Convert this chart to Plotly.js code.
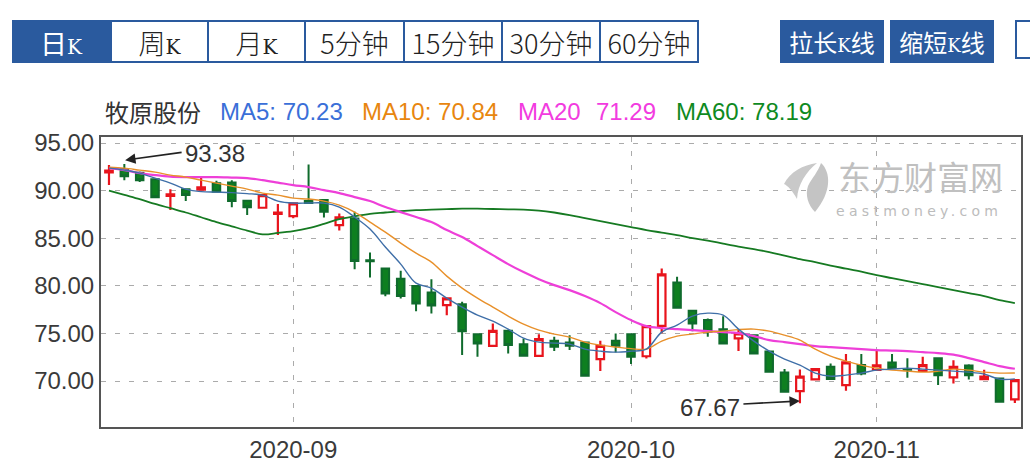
<!DOCTYPE html>
<html><head><meta charset="utf-8">
<script src="https://cdn.plot.ly/plotly-3.0.1.min.js"></script>
<style>
html,body{margin:0;padding:0;background:#fff;width:1030px;height:470px;overflow:hidden}
#chart{position:absolute;left:0;top:0;width:1030px;height:470px}
.btn{position:absolute;top:20px;height:43px;line-height:41px;box-sizing:border-box;text-align:center;border:2px solid #2a5a9e;border-left:none;background:#fff;color:#222;font-family:"Noto Sans CJK SC";font-weight:300;font-size:27px;white-space:nowrap;overflow:hidden}
.btn.on{background:#2a5a9e;color:#fff;font-weight:400}
.btn.blue{background:#2a5a9e;color:#fff;border:none;font-size:24px;font-weight:400;line-height:43px}
.btn small{font-family:"DejaVu Serif";font-size:20px}
.btn.blue small{font-size:18px}
#logo{position:absolute;left:0;top:0;pointer-events:none}
#chart .annotation[data-index="9"] text{letter-spacing:4.3px}
</style></head><body>
<div id="chart"></div>
<div id="bar"></div>
<svg id="logo" width="1030" height="470"><path d="M784,184C790,172 803,165 817,163C806,172 798,184 797,199C792,190 788,186 784,184Z" fill="#c9c9c9"/><path d="M821,163C831,172 832,192 815,212C808,205 805,195 808,186C812,178 818,172 821,163Z" fill="#c4c4c4"/></svg>
<script>
const dates = ['2020-08-14','2020-08-17','2020-08-18','2020-08-19','2020-08-20','2020-08-21','2020-08-24','2020-08-25','2020-08-26','2020-08-27','2020-08-28','2020-08-31','2020-09-01','2020-09-02','2020-09-03','2020-09-04','2020-09-07','2020-09-08','2020-09-09','2020-09-10','2020-09-11','2020-09-14','2020-09-15','2020-09-16','2020-09-17','2020-09-18','2020-09-21','2020-09-22','2020-09-23','2020-09-24','2020-09-25','2020-09-28','2020-09-29','2020-09-30','2020-10-09','2020-10-12','2020-10-13','2020-10-14','2020-10-15','2020-10-16','2020-10-19','2020-10-20','2020-10-21','2020-10-22','2020-10-23','2020-10-26','2020-10-27','2020-10-28','2020-10-29','2020-10-30','2020-11-02','2020-11-03','2020-11-04','2020-11-05','2020-11-06','2020-11-09','2020-11-10','2020-11-11','2020-11-12','2020-11-13'];
const openP = [91.9,92.26,91.87,91.18,89.45,90.13,90.1,90.76,90.86,88.93,88.2,87.55,87.32,88.9,89.0,86.38,87.08,82.68,81.83,80.74,79.97,79.3,77.97,78.05,74.9,73.7,75.27,73.85,72.65,74.22,74.05,74.05,72.3,74.22,74.9,72.6,75.8,80.36,77.37,76.4,75.45,74.47,74.82,73.1,70.9,68.94,70.17,71.49,69.57,71.67,71.18,71.95,71.22,71.07,72.4,70.38,71.64,70.2,70.27,68.07];
const closeP = [92.1,91.52,91.1,89.29,89.6,89.53,90.34,89.87,88.9,88.24,89.53,87.7,88.66,88.7,87.77,87.18,82.6,82.58,79.2,78.92,78.15,77.94,78.68,75.24,73.95,75.27,73.77,72.65,74.4,73.6,73.7,70.55,73.7,73.7,72.54,75.77,81.2,77.69,76.05,75.17,73.95,75.0,72.9,70.97,68.87,70.46,71.25,70.2,71.95,70.8,71.64,71.37,71.18,71.67,70.6,71.49,70.6,70.46,67.82,70.09];
const highP = [92.69,92.8,92.0,91.2,90.13,90.13,91.45,91.03,91.1,88.95,89.6,88.58,88.7,92.75,89.1,87.6,87.77,83.5,81.85,81.58,80.0,80.7,78.75,78.32,74.95,76.04,75.4,74.47,74.9,74.64,74.8,74.1,74.22,75.0,74.95,75.8,81.83,80.95,77.4,76.57,76.8,75.35,74.85,73.15,71.25,71.2,71.3,71.85,72.83,72.83,73.15,72.83,72.4,72.54,72.45,72.17,71.75,71.18,70.3,70.15];
const lowP = [90.58,91.1,90.9,89.2,87.95,88.9,90.05,89.8,88.24,87.43,88.1,85.33,87.1,88.65,87.18,85.8,81.75,80.88,78.9,78.68,77.34,77.1,76.92,72.72,72.54,73.6,72.9,72.6,72.6,73.14,73.25,70.5,71.04,73.0,71.8,72.37,75.03,77.6,75.24,74.64,73.9,73.14,72.85,70.9,68.8,67.67,70.1,70.15,68.97,70.6,71.1,71.3,70.35,71.0,69.57,69.75,70.17,70.15,67.75,67.7];
const ma5 = [92.36,92.15,91.84,91.31,90.79,90.16,89.89,89.84,89.79,89.68,89.53,88.9,88.69,88.69,88.69,88.27,87.22,85.96,84.07,82.28,80.28,79.76,78.71,77.76,76.92,76.29,75.45,74.51,74.09,73.98,73.88,73.35,73.14,73.03,73.14,73.35,75.14,75.87,76.82,77.13,76.92,75.45,74.19,73.14,72.3,71.67,70.83,70.51,70.62,70.83,71.14,71.25,71.35,71.25,71.14,71.04,70.93,70.72,70.2,70.23];
const ma10 = [92.47,92.36,92.15,91.94,91.63,91.42,91.1,90.79,90.47,90.16,89.74,89.53,89.21,89.11,88.9,88.48,87.74,86.69,85.64,84.49,83.43,82.49,81.02,79.76,78.71,77.76,76.82,75.98,75.35,74.93,74.61,74.09,73.77,73.56,73.4,73.35,74.19,74.72,74.93,75.14,75.24,75.4,75.45,75.24,74.82,74.3,73.35,72.61,72.09,71.67,71.35,71.14,71.04,70.93,71.04,71.25,71.14,70.93,70.83,70.84];
const ma20 = [92.36,92.15,91.84,91.63,91.47,91.42,91.42,91.42,91.37,91.31,91.1,90.84,90.58,90.37,90.05,89.74,89.32,88.9,88.27,87.74,87.22,86.69,85.85,85.12,84.17,83.22,82.28,81.44,80.7,80.07,79.55,78.92,78.18,77.24,76.4,75.77,75.56,75.45,75.35,75.24,75.14,75.03,74.72,74.3,74.09,73.88,73.67,73.56,73.46,73.35,73.25,73.2,73.14,73.03,72.93,72.77,72.41,71.99,71.57,71.29];
const ma60 = [90.0,89.55,89.1,88.6,88.15,87.7,87.2,86.7,86.25,85.8,85.4,85.55,85.75,86.05,86.5,87.0,87.3,87.55,87.7,87.85,87.95,88.0,88.05,88.1,88.1,88.07,88.03,88.0,87.9,87.7,87.43,87.11,86.8,86.48,86.17,85.85,85.59,85.33,85.01,84.75,84.43,84.12,83.86,83.54,83.17,82.8,82.49,82.12,81.81,81.49,81.12,80.81,80.49,80.18,79.86,79.55,79.23,78.92,78.5,78.19];
const yTicks = [95,90,85,80,75,70];
const xTickIdx = [12,34,50];
const xTickText = ['2020-09','2020-10','2020-11'];
const idx = dates.map((d,i)=>i);
const tabs = ['日<small>K</small>','周<small>K</small>','月<small>K</small>','5分钟','15分钟','30分钟','60分钟'];
const tabEdges = [12,112,209,306,405,503,601,699];
const actions = ['拉长<small>K</small>线','缩短<small>K</small>线'];
const actionEdges = [[780,884],[890,994]];

const W=920,H=290,L=101,T=137;
const px = (x)=>(x-L)/W, py=(y)=>(T+H-y)/H;
const fontA='"Liberation Sans",Arial,sans-serif';
const note=(x,y,text,color,size,anchor,extra)=>Object.assign({xref:'paper',yref:'paper',x:px(x),y:py(y),text,showarrow:false,xanchor:anchor||'left',yanchor:'middle',font:{family:fontA,size,color}},extra||{});

const traces=[
 {type:'candlestick',x:idx,open:openP,high:highP,low:lowP,close:closeP,whiskerwidth:0,
  increasing:{line:{color:'#e8141c',width:2.2},fillcolor:'#ffffff'},
  decreasing:{line:{color:'#0f6b2c',width:2},fillcolor:'#0e7f20'},hoverinfo:'skip'},
 {type:'scatter',mode:'lines',x:idx,y:ma60,line:{color:'#167a22',width:1.8,shape:'spline'},hoverinfo:'skip'},
 {type:'scatter',mode:'lines',x:idx,y:ma20,line:{color:'#ee3fd8',width:2.2,shape:'spline'},hoverinfo:'skip'},
 {type:'scatter',mode:'lines',x:idx,y:ma10,line:{color:'#e8902a',width:1.4,shape:'spline'},hoverinfo:'skip'},
 {type:'scatter',mode:'lines',x:idx,y:ma5,line:{color:'#3f6fa8',width:1.4,shape:'spline'},hoverinfo:'skip'}
];
const layout={
 width:1030,height:470,margin:{l:L,r:1030-L-W,t:T,b:470-T-H},showlegend:false,
 paper_bgcolor:'rgba(0,0,0,0)',plot_bgcolor:'rgba(0,0,0,0)',boxgap:0.3,
 xaxis:{type:'linear',range:[-0.52,59.4],tickmode:'array',tickvals:xTickIdx,ticktext:xTickText,rangeslider:{visible:false},
  showgrid:true,gridcolor:'#ababab',griddash:'5px,9px',gridwidth:1,zeroline:false,ticks:'',showline:true,linecolor:'#555',linewidth:2,mirror:true,
  tickfont:{family:fontA,size:24,color:'#3a3a3a'}},
 yaxis:{range:[65.17,95.63],tickmode:'array',tickvals:yTicks,ticktext:yTicks.map(v=>v.toFixed(2)),
  showgrid:true,gridcolor:'#ababab',griddash:'5px,9px',gridwidth:1,zeroline:false,ticks:'',showline:true,linecolor:'#555',linewidth:2,mirror:true,
  tickfont:{family:fontA,size:24,color:'#3a3a3a'}},
 annotations:[
  note(103,111,'牧原股份','#333',24,'left',{font:{family:'"Noto Sans CJK SC"',size:24,color:'#333'}}),
  note(218,111,'MA5: 70.23','#3a6fd8',24),
  note(360,111,'MA10: 70.84','#e8860f',24),
  note(516,111,'MA20','#f23be0',24),
  note(594,111,'71.29','#f23be0',24),
  note(674,111,'MA60: 78.19','#0f8a1f',24),
  note(183,153,'93.38','#333',24),
  note(678,407,'67.67','#333',24),
  note(836,176,'东方财富网','#c0c0c0',33,'left',{font:{family:'"Noto Sans CJK SC"',size:33,color:'#c0c0c0'}}),
  note(862,211,'eastmoney.com','#c0c0c0',14,'left',{font:{family:'"DejaVu Sans"',size:14,color:'#bcbcbc'}}),
  {xref:'x',yref:'y',x:1.05,y:93.2,axref:'pixel',ayref:'pixel',ax:58,ay:-8,text:'',showarrow:true,arrowhead:2,arrowsize:1.3,arrowwidth:1.6,arrowcolor:'#222'},
  {xref:'x',yref:'y',x:45,y:67.9,axref:'pixel',ayref:'pixel',ax:-58,ay:3,text:'',showarrow:true,arrowhead:2,arrowsize:1.3,arrowwidth:1.6,arrowcolor:'#222'}
 ]
};
Plotly.newPlot('chart',traces,layout,{staticPlot:true,displayModeBar:false});

const bar=document.getElementById('bar');
tabs.forEach((t,i)=>{const d=document.createElement('div');d.className='btn'+(i===0?' on':'');d.innerHTML=t;
 d.style.left=tabEdges[i]+'px';d.style.width=(tabEdges[i+1]-tabEdges[i])+'px';bar.appendChild(d);});
actions.forEach((t,i)=>{const d=document.createElement('div');d.className='btn blue';d.innerHTML=t;
 d.style.left=actionEdges[i][0]+'px';d.style.width=(actionEdges[i][1]-actionEdges[i][0])+'px';bar.appendChild(d);});
const stub=document.createElement('div');stub.className='btn';stub.style.cssText='left:1015px;width:30px;height:39px;border-left:2px solid #2a5a9e';bar.appendChild(stub);
</script>
</body></html>
